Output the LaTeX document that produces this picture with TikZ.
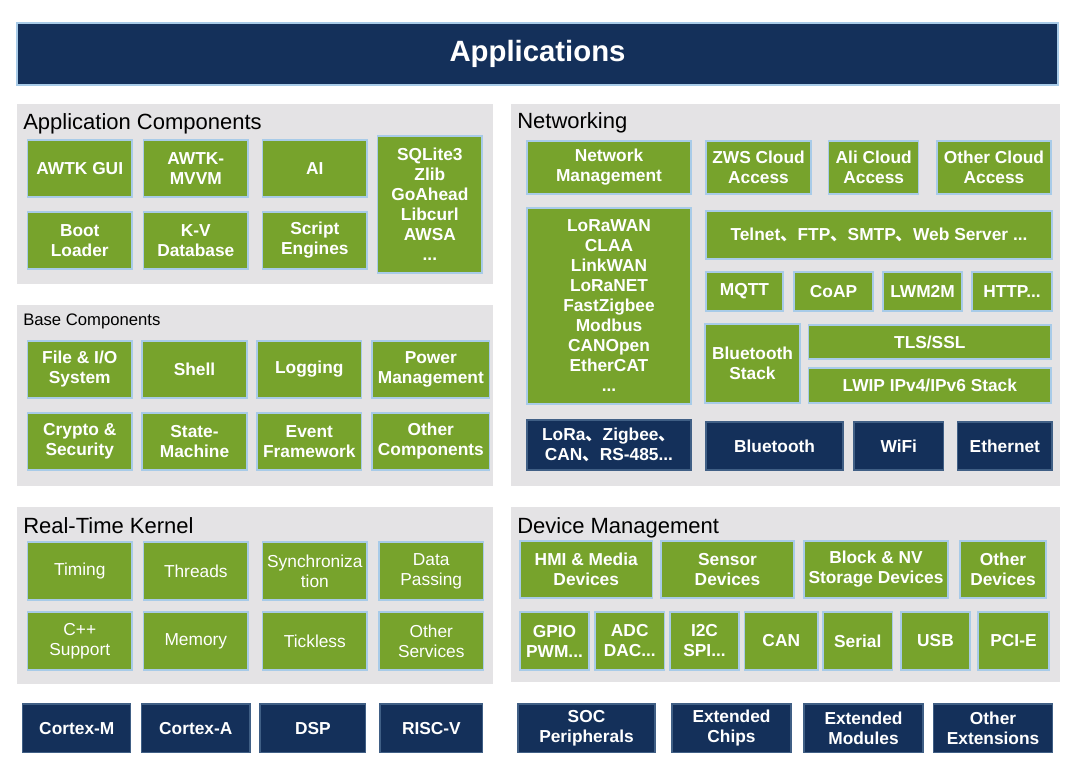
\documentclass[tikz,border=0pt]{standalone}
\usepackage{fontspec}
\setmainfont{Liberation Sans}
\newfontfamily\cjk{Noto Sans CJK SC}
\usepackage{tikz}

\definecolor{navy}{HTML}{14305A}
\definecolor{leaf}{HTML}{77A32C}
\definecolor{panelgray}{HTML}{E4E3E5}
\definecolor{edgeblue}{HTML}{A8CBE8}

\newcommand{\dun}{{\cjk 、}}
% box from (x1,y1) to (x2,y2), in pixels
\newcommand{\blk}[7]{\node[#1, minimum width={(#5-#3)*0.75pt}, minimum height={(#6-#4)*0.75pt}] (#2) at ({(#3+#5)/2},{(#4+#6)/2}) {#7};}

\tikzset{
	panel/.style={fill=panelgray, inner sep=0pt},
	gbox/.style={fill=leaf, draw=edgeblue, line width=0.8pt, text=white, align=center, inner sep=1pt,
		font=\bfseries\fontsize{13}{15}\selectfont},
	gboxr/.style={gbox, font=\fontsize{13}{15}\selectfont},
	dbox/.style={gbox, fill=navy, draw=navy!70!edgeblue},
	appbar/.style={dbox, draw=edgeblue, font=\bfseries\fontsize{22}{24}\selectfont},
	paneltitle/.style={anchor=base west, inner sep=0pt, font=\fontsize{16.5}{18}\selectfont},
}

\begin{document}
\begin{tikzpicture}[x=0.75pt, y=-0.75pt]

	\fill[white] (0,0) rectangle (1080,765);
	\useasboundingbox (0,0) rectangle (1080,765);

	%top bar

	\blk{appbar}{apps}{17}{23}{1058}{85}{Applications}

	%panels

	\blk{panel}{pac}{16.5}{104}{493}{284}{}
	\blk{panel}{pnet}{511}{104}{1060}{486}{}
	\blk{panel}{pbase}{16.5}{305}{493}{486}{}
	\blk{panel}{prtk}{16.5}{507}{493}{684}{}
	\blk{panel}{pdev}{511}{507}{1060}{682}{}

	\node[paneltitle] (tac) at (23,129) {Application Components};
	\node[paneltitle] (tnet) at (517,128) {Networking};
	\node[paneltitle, font=\fontsize{12.5}{14}\selectfont] (tbase) at (23,325) {Base Components};
	\node[paneltitle] (trtk) at (23,533) {Real-Time Kernel};
	\node[paneltitle] (tdev) at (517,533) {Device Management};

	%application components

	\blk{gbox}{awtk}{27.5}{140}{132}{197}{AWTK GUI}
	\blk{gbox}{mvvm}{143.6}{140}{248}{197}{AWTK-\\MVVM}
	\blk{gbox}{ai}{262.7}{140}{367}{197}{AI}
	\blk{gbox}{libs}{377.7}{136}{482}{273}{SQLite3\\Zlib\\GoAhead\\Libcurl\\AWSA\\...}
	\blk{gbox}{boot}{27.5}{212}{132}{269}{Boot\\Loader}
	\blk{gbox}{kv}{143.6}{212}{248}{269}{K-V\\Database}
	\blk{gbox}{script}{262.7}{212}{367}{269}{Script\\Engines}

	%base components

	\blk{gbox}{fileio}{27.5}{341}{132}{398}{File \& I/O\\System}
	\blk{gbox}{shell}{142}{341}{247}{398}{Shell}
	\blk{gbox}{logging}{257}{341}{361.6}{398}{Logging}
	\blk{gbox}{power}{372}{341}{489.7}{398}{Power\\Management}
	\blk{gbox}{crypto}{27.5}{413}{132}{470}{Crypto \&\\Security}
	\blk{gbox}{fsm}{142}{413}{247}{470}{State-\\Machine}
	\blk{gbox}{event}{257}{413}{361.6}{470}{Event\\Framework}
	\blk{gbox}{othercomp}{372}{413}{489.7}{470}{Other\\Components}

	%real-time kernel

	\blk{gboxr}{timing}{27.5}{542}{132}{600}{Timing}
	\blk{gboxr}{threads}{143.6}{542}{248}{600}{Threads}
	\blk{gboxr}{sync}{262.7}{542}{367}{600}{Synchroniza\\tion}
	\blk{gboxr}{datapass}{379}{542}{483.5}{600}{Data\\Passing}
	\blk{gboxr}{cpp}{27.5}{612}{132}{670}{C++\\Support}
	\blk{gboxr}{memory}{143.6}{612}{248}{670}{Memory}
	\blk{gboxr}{tickless}{262.7}{612}{367}{670}{Tickless}
	\blk{gboxr}{othersvc}{379}{612}{483.5}{670}{Other\\Services}

	%cpu row

	\blk{dbox}{cortexm}{22.7}{704}{130.9}{752.7}{Cortex-M}
	\blk{dbox}{cortexa}{141.5}{704}{250}{752.7}{Cortex-A}
	\blk{dbox}{dsp}{260}{704}{365.7}{752.7}{DSP}
	\blk{dbox}{riscv}{380}{704}{482.8}{752.7}{RISC-V}

	%networking

	\blk{gbox}{netmgmt}{527}{141}{691}{194}{Network\\Management}
	\blk{gbox}{zws}{706}{141}{811}{194}{ZWS Cloud\\Access}
	\blk{gbox}{ali}{828.6}{141}{918.8}{194}{Ali Cloud\\Access}
	\blk{gbox}{othercloud}{937}{141}{1051}{194}{Other Cloud\\Access}
	\blk{gbox}{lora}{527}{208}{691}{404}{LoRaWAN\\CLAA\\LinkWAN\\LoRaNET\\FastZigbee\\Modbus\\CANOpen\\EtherCAT\\...}
	\blk{gbox}{telnet}{706}{211}{1052}{259}{Telnet\dun FTP\dun SMTP\dun Web Server ...}
	\blk{gbox}{mqtt}{706}{272}{783}{311}{MQTT}
	\blk{gbox}{coap}{794}{272}{873}{311}{CoAP}
	\blk{gbox}{lwm2m}{883}{272}{962}{311}{LWM2M}
	\blk{gbox}{http}{972}{272}{1052}{311}{HTTP...}
	\blk{gbox}{btstack}{705}{324}{800}{403}{Bluetooth\\Stack}
	\blk{gbox}{tls}{808.6}{325}{1051}{359}{TLS/SSL}
	\blk{gbox}{lwip}{808.6}{368}{1051}{403}{LWIP IPv4/IPv6 Stack}
	\blk{dbox}{phy}{527}{420}{691}{470}{LoRa\dun Zigbee\dun\\CAN\dun RS-485...}
	\blk{dbox}{bt}{706}{422}{843}{470}{Bluetooth}
	\blk{dbox}{wifi}{854}{422}{943.6}{470}{WiFi}
	\blk{dbox}{eth}{957.7}{422}{1052}{470}{Ethernet}

	%device management

	\blk{gbox}{hmi}{520}{541}{652.5}{598}{HMI \& Media\\Devices}
	\blk{gbox}{sensor}{661}{541}{794}{598}{Sensor\\Devices}
	\blk{gbox}{storage}{804}{541}{948}{598}{Block \& NV\\Storage Devices}
	\blk{gbox}{otherdev}{960}{541}{1046}{598}{Other\\Devices}
	\blk{gbox}{gpio}{520}{612}{589}{670}{GPIO\\PWM...}
	\blk{gbox}{adc}{595}{612}{664.5}{670}{ADC\\DAC...}
	\blk{gbox}{i2c}{670}{612}{739}{670}{I2C\\SPI...}
	\blk{gbox}{can}{744.5}{612}{818}{670}{CAN}
	\blk{gbox}{serial}{823}{612}{892.5}{670}{Serial}
	\blk{gbox}{usb}{901}{612}{970}{670}{USB}
	\blk{gbox}{pcie}{978}{612}{1049}{670}{PCI-E}

	%extension row

	\blk{dbox}{soc}{518}{704}{655}{752.7}{SOC\\Peripherals}
	\blk{dbox}{extchips}{672}{704}{791}{752.7}{Extended\\Chips}
	\blk{dbox}{extmod}{804}{704}{923}{752.7}{Extended\\Modules}
	\blk{dbox}{otherext}{933.6}{704}{1052.5}{752.7}{Other\\Extensions}

\end{tikzpicture}
\end{document}
